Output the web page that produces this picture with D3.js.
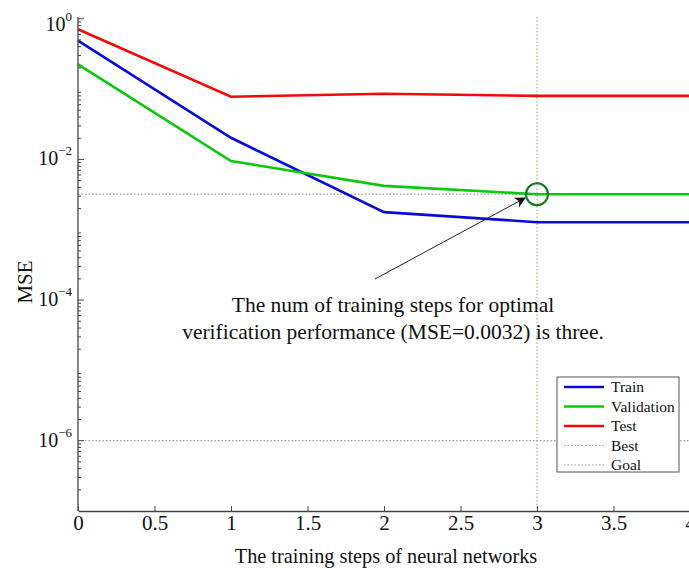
<!DOCTYPE html>
<html>
<head>
<meta charset="utf-8">
<script src="https://cdn.jsdelivr.net/npm/d3@7"></script>
<style>
  html, body { margin: 0; padding: 0; background: #fff; }
  svg { display: block; }
  svg text { font-family: "Liberation Serif", "Times New Roman", serif; }
</style>
</head>
<body>
<svg id="chart" width="689" height="569"></svg>
<script>
// Training record: MSE per training step
const steps = [0, 1, 2, 3, 4];
const trainMSE = [0.49, 0.0203, 0.00178, 0.00128, 0.00128];
const validationMSE = [0.224, 0.0095, 0.0042, 0.0032, 0.0032];
const testMSE = [0.71, 0.078, 0.086, 0.080, 0.080];
const bestEpoch = 3;
const bestMSE = 0.0032;
const goalMSE = 1e-6;
const xTicks = [0, 0.5, 1, 1.5, 2, 2.5, 3, 3.5, 4];
const yMajorExps = [-6, -4, -2, 0];
const legendLabels = ["Train", "Validation", "Test", "Best", "Goal"];
const annotationLines = [
  "The num of training steps for optimal",
  "verification performance (MSE=0.0032) is three."
];

const svg = d3.select("#chart");
const plotLeft = 78, plotRight = 690, plotTop = 17, plotBottom = 511;

const x = d3.scaleLinear().domain([0, 4]).range([plotLeft, plotRight]);
const y = d3.scaleLog().domain([1e-7, 1.06]).range([plotBottom, plotTop]);

const g = svg.append("g");

// Goal and best reference lines
g.append("line")
  .attr("x1", plotLeft).attr("x2", plotRight)
  .attr("y1", y(goalMSE)).attr("y2", y(goalMSE))
  .attr("stroke", "#888").attr("stroke-width", 1).attr("stroke-dasharray", "1.5,2");
g.append("line")
  .attr("x1", plotLeft).attr("x2", plotRight)
  .attr("y1", y(bestMSE)).attr("y2", y(bestMSE))
  .attr("stroke", "#888").attr("stroke-width", 1).attr("stroke-dasharray", "1.5,2");
g.append("line")
  .attr("x1", x(bestEpoch)).attr("x2", x(bestEpoch))
  .attr("y1", plotTop).attr("y2", plotBottom)
  .attr("stroke", "#8aa870").attr("stroke-width", 1).attr("stroke-dasharray", "1.5,2");

// Series lines
const line = d3.line().x((d, i) => x(steps[i])).y(d => y(d));
const series = [
  { values: trainMSE, color: "#0a0ad8" },
  { values: validationMSE, color: "#0ac80a" },
  { values: testMSE, color: "#f20a0a" }
];
series.forEach(s => {
  g.append("path")
    .datum(s.values)
    .attr("d", line)
    .attr("fill", "none")
    .attr("stroke", s.color)
    .attr("stroke-width", 2.6);
});

// Best validation marker
g.append("circle")
  .attr("cx", x(bestEpoch)).attr("cy", y(bestMSE)).attr("r", 11)
  .attr("fill", "none").attr("stroke", "#0a7a1a").attr("stroke-width", 2);

// Axes
const axisColor = "#444";
const xAxis = d3.axisBottom(x).tickValues(xTicks).tickSizeInner(-5).tickSizeOuter(0)
  .tickFormat(d => d3.format("")(d));
const xg = svg.append("g").attr("transform", `translate(0,${plotBottom})`).call(xAxis)
  .attr("font-family", null).attr("font-size", null);
xg.select(".domain").attr("stroke", axisColor).attr("stroke-width", 1.3);
xg.selectAll(".tick line").attr("stroke", axisColor);
xg.selectAll(".tick text")
  .attr("y", 19).attr("dy", 0)
  .attr("font-size", 21).attr("fill", "#111");

const yg = svg.append("g").attr("transform", `translate(${plotLeft},0)`);
yg.append("line").attr("x1", 0).attr("x2", 0).attr("y1", plotTop).attr("y2", plotBottom)
  .attr("stroke", axisColor).attr("stroke-width", 1.3);
// minor ticks
const minorVals = [];
for (let e = -7; e < 0; e++) {
  for (let m = 2; m <= 9; m++) minorVals.push(m * Math.pow(10, e));
}
yg.selectAll("line.minor").data(minorVals).enter().append("line")
  .attr("class", "minor")
  .attr("x1", 0).attr("x2", 3)
  .attr("y1", d => y(d)).attr("y2", d => y(d))
  .attr("stroke", axisColor).attr("stroke-width", 1);
yg.selectAll("line.major").data(yMajorExps).enter().append("line")
  .attr("class", "major")
  .attr("x1", 0).attr("x2", 6)
  .attr("y1", d => y(Math.pow(10, d))).attr("y2", d => y(Math.pow(10, d)))
  .attr("stroke", axisColor).attr("stroke-width", 1);
// the top label is nudged down so its superscript stays inside the figure
const yl = yg.selectAll("text.ylab").data(yMajorExps).enter().append("text")
  .attr("class", "ylab")
  .attr("x", -6).attr("y", d => y(Math.pow(10, d)) + (d === 0 ? 12 : 6))
  .attr("text-anchor", "end").attr("fill", "#111").attr("font-size", 20);
yl.append("tspan").text("10");
yl.append("tspan").attr("dy", -10).attr("font-size", 13)
  .text(d => d === 0 ? "0" : "\u2212" + Math.abs(d));

// Axis titles
svg.append("text")
  .attr("x", 386).attr("y", 563)
  .attr("text-anchor", "middle").attr("font-size", 20.3).attr("fill", "#111")
  .text("The training steps of neural networks");
svg.append("text")
  .attr("transform", "translate(32,282) rotate(-90)")
  .attr("text-anchor", "middle").attr("font-size", 21).attr("fill", "#111")
  .text("MSE");

// Annotation arrow
const defs = svg.append("defs");
defs.append("marker")
  .attr("id", "arrowhead").attr("viewBox", "0 0 10 10")
  .attr("refX", 9).attr("refY", 5)
  .attr("markerWidth", 15).attr("markerHeight", 11)
  .attr("markerUnits", "userSpaceOnUse")
  .attr("orient", "auto")
  .append("path").attr("d", "M0,0 L10,5 L0,10 L3,5 Z").attr("fill", "#111");
svg.append("line")
  .attr("x1", 375).attr("y1", 279).attr("x2", 525).attr("y2", 198)
  .attr("stroke", "#222").attr("stroke-width", 1)
  .attr("marker-end", "url(#arrowhead)");

svg.selectAll("text.note").data(annotationLines).enter().append("text")
  .attr("class", "note")
  .attr("x", 393).attr("y", (d, i) => 312 + i * 27)
  .attr("text-anchor", "middle").attr("font-size", 21.5).attr("fill", "#111")
  .text(d => d);

// Legend
const lg = svg.append("g").attr("transform", "translate(557,377)");
lg.append("rect").attr("width", 122).attr("height", 95)
  .attr("fill", "#fff").attr("stroke", "#555").attr("stroke-width", 1);
const legendStyles = [
  { color: "#0a0ad8", w: 2.6, dash: null },
  { color: "#0ac80a", w: 2.6, dash: null },
  { color: "#f20a0a", w: 2.6, dash: null },
  { color: "#999", w: 1, dash: "1.5,2" },
  { color: "#999", w: 1, dash: "1.5,2" }
];
legendLabels.forEach((lab, i) => {
  const yy = 10 + i * 19.5;
  lg.append("line").attr("x1", 7).attr("x2", 47).attr("y1", yy).attr("y2", yy)
    .attr("stroke", legendStyles[i].color).attr("stroke-width", legendStyles[i].w)
    .attr("stroke-dasharray", legendStyles[i].dash);
  lg.append("text").attr("x", 54).attr("y", yy + 5)
    .attr("font-size", 15.5).attr("fill", "#111").text(lab);
});
</script>
</body>
</html>
